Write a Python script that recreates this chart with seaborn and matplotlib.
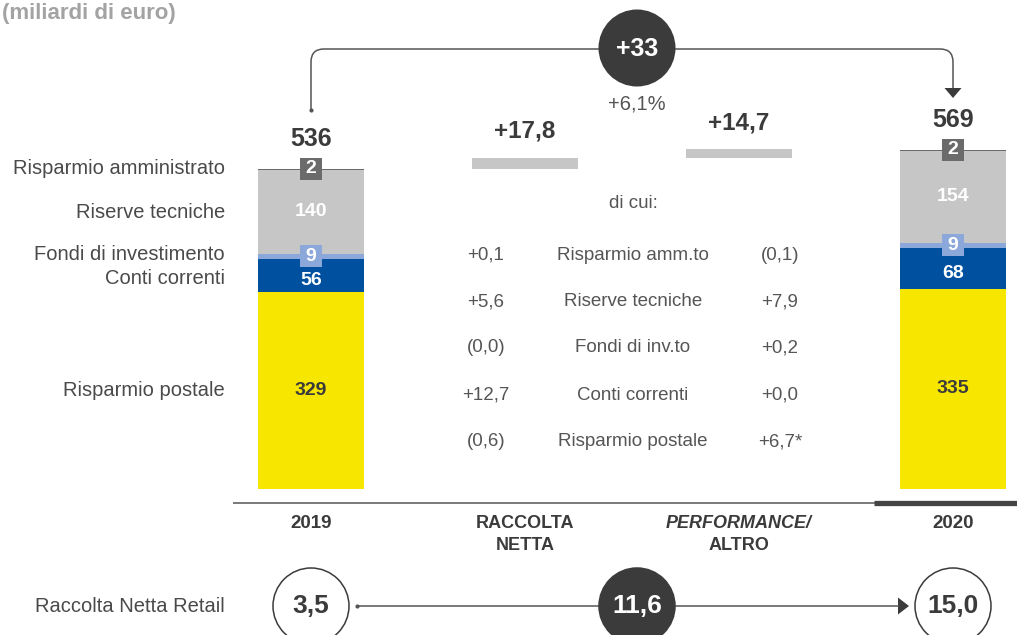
import numpy as np
import pandas as pd
import matplotlib
matplotlib.use("Agg")
import matplotlib.pyplot as plt
from matplotlib.path import Path
from matplotlib.patches import PathPatch, Polygon, Circle
import seaborn as sns

# ---- data (miliardi di euro) ----
columns = ["2019", "RACCOLTA NETTA", "PERFORMANCE/ALTRO", "2020"]
segments = ["Risparmio postale", "Conti correnti", "Fondi di investimento",
            "Riserve tecniche", "Risparmio amministrato"]
stock_2019 = [329, 56, 9, 140, 2]
stock_2020 = [335, 68, 9, 154, 2]
segment_labels_2019 = ["329", "56", "9", "140", "2"]
segment_labels_2020 = ["335", "68", "9", "154", "2"]
total_labels = ["536", "569"]
flow_values = [17.8, 14.7]
flow_labels = ["+17,8", "+14,7"]
delta_total = "+33"
delta_pct = "+6,1%"
detail_items = ["Risparmio amm.to", "Riserve tecniche", "Fondi di inv.to",
                "Conti correnti", "Risparmio postale"]
detail_raccolta = ["+0,1", "+5,6", "(0,0)", "+12,7", "(0,6)"]
detail_performance = ["(0,1)", "+7,9", "+0,2", "+0,0", "+6,7*"]
retail_labels = ["3,5", "11,6", "15,0"]
retail_title = "Raccolta Netta Retail"

# ---- styling ----
sns.set_theme(style="white")
plt.rcParams["font.family"] = ["Liberation Sans", "DejaVu Sans"]

YELLOW = "#f7e700"
BLUE = "#0050a0"
LIGHT_BLUE = "#8ca8da"
GREY = "#c6c6c6"
DARK_GREY = "#6b6b6b"
INK = "#3b3b3b"
TEXT = "#4a4a4a"
seg_colors = [YELLOW, BLUE, LIGHT_BLUE, GREY, DARK_GREY]

W, H = 1017, 635
fig = plt.figure(figsize=(W / 100, H / 100), dpi=100)
fig.patch.set_facecolor("white")

# value axis: category spacing and value scale
X0, DX = 311.0, 214.0          # pixel centre of first column, column spacing
BASE, K = 489.0, 0.5976        # pixel row of zero, pixels per billion
ax = fig.add_axes([0, 0, 1, 1])
ax.set_axis_off()

# stacked stock bars
bottom = np.zeros(len(columns))
for i, color in enumerate(seg_colors):
    heights = np.array([stock_2019[i], 0, 0, stock_2020[i]], dtype=float)
    df = pd.DataFrame({"col": columns, "val": heights})
    sns.barplot(data=df, x="col", y="val", order=columns, color=color,
                saturation=1, width=0.495, errorbar=None, bottom=bottom.copy(),
                linewidth=0, ax=ax)
    bottom += heights

# floating bars of the bridge
tot19 = sum(stock_2019)
flow_bottom = np.array([0, tot19, tot19 + flow_values[0], 0], dtype=float)
flow_heights = np.array([0, flow_values[0], flow_values[1], 0], dtype=float)
sns.barplot(data=pd.DataFrame({"col": columns, "val": flow_heights}), x="col", y="val",
            order=columns, color=GREY, saturation=1, width=0.495, errorbar=None,
            bottom=flow_bottom, linewidth=0, ax=ax)

ax.set_xlim(-X0 / DX, (W - X0) / DX)
ax.set_ylim(-(H - BASE) / K, BASE / K)

# segment labels inside the stock bars
for col, stock, labels in [(0, stock_2019, segment_labels_2019), (3, stock_2020, segment_labels_2020)]:
    cum = np.cumsum([0] + stock)
    # postale
    ax.text(col, (cum[0] + cum[1]) / 2, labels[0], ha="center", va="center",
            fontsize=14, fontweight="bold", color=INK, zorder=5)
    # conti correnti
    ax.annotate(labels[1], (col, (cum[1] + cum[2]) / 2), xytext=(0, -3.5),
                textcoords="offset points", ha="center", va="center",
                fontsize=14, fontweight="bold", color="white", zorder=5)
    # fondi (boxed)
    ymid = (cum[2] + cum[3]) / 2
    ax.scatter([col], [ymid], marker="s", s=235, color=LIGHT_BLUE, linewidths=0, zorder=5)
    ax.text(col, ymid, labels[2], ha="center", va="center",
            fontsize=14, fontweight="bold", color="white", zorder=6)
    # riserve tecniche
    ax.text(col, (cum[3] + cum[4]) / 2, labels[3], ha="center", va="center",
            fontsize=14, fontweight="bold", color="white", zorder=5)
    # amministrato (boxed at the top edge)
    ax.scatter([col], [cum[5]], marker="s", s=235, color=DARK_GREY, linewidths=0, zorder=5)
    ax.text(col, cum[5], labels[4], ha="center", va="center",
            fontsize=14, fontweight="bold", color="white", zorder=6)

# totals above stock bars
for col, tot, lab in [(0, tot19, total_labels[0]), (3, sum(stock_2020), total_labels[1])]:
    ax.annotate(lab, (col, tot), xytext=(0, 16), textcoords="offset points",
                ha="center", va="baseline", fontsize=18, fontweight="bold", color=INK)

# bridge labels
for col, b, h, lab in [(1, flow_bottom[1], flow_heights[1], flow_labels[0]),
                       (2, flow_bottom[2], flow_heights[2], flow_labels[1])]:
    ax.annotate(lab, (col, b + h), xytext=(0, 14.5), textcoords="offset points",
                ha="center", va="baseline", fontsize=17.5, fontweight="bold", color=INK)

# ---- overlay in pixel units for the decoration ----
lay = fig.add_axes([0, 0, 1, 1], zorder=3)
lay.set_xlim(0, W)
lay.set_ylim(H, 0)
lay.set_axis_off()
lay.patch.set_alpha(0)

cx = [X0 + DX * i for i in range(4)]
mid_x = 637

# unit note
lay.text(2, 19, "(miliardi di euro)", ha="left", va="baseline",
         fontsize=16, fontweight="bold", color="#a3a3a3")

# segment names on the left
for name, y in [("Risparmio amministrato", 169), ("Riserve tecniche", 212),
                ("Fondi di investimento", 255), ("Conti correnti", 279),
                ("Risparmio postale", 390)]:
    lay.text(225, y, name, ha="right", va="center", fontsize=14.5, color=TEXT)

# connector from 2019 to 2020 over the top
r = 13
verts = [(cx[0], 110), (cx[0], 49 + r), (cx[0], 49), (cx[0] + r, 49),
         (cx[3] - r, 49), (cx[3], 49), (cx[3], 49 + r), (cx[3], 89)]
codes = [Path.MOVETO, Path.LINETO, Path.CURVE3, Path.CURVE3,
         Path.LINETO, Path.CURVE3, Path.CURVE3, Path.LINETO]
lay.add_patch(PathPatch(Path(verts, codes), fill=False, edgecolor="#555555", lw=1.1))
lay.add_patch(Polygon([(cx[3] - 8.5, 88), (cx[3] + 8.5, 88), (cx[3], 98)],
                      closed=True, color=INK, lw=0))
lay.plot([cx[0]], [110], marker="o", ms=2, color="#555555")
lay.add_patch(Circle((mid_x, 48), 38.5, color=INK, lw=0, zorder=4))
lay.text(mid_x, 49, delta_total, ha="center", va="center", fontsize=18,
         fontweight="bold", color="white", zorder=5)
lay.text(mid_x, 104, delta_pct, ha="center", va="center", fontsize=14.5, color="#555555")

# "di cui" breakdown table
lay.text(633, 204, "di cui:", ha="center", va="center", fontsize=13.5, color="#555555")
for k, y in enumerate([255, 302, 348, 395, 442]):
    lay.text(486, y, detail_raccolta[k], ha="center", va="center", fontsize=13.5, color="#555555")
    lay.text(633, y, detail_items[k], ha="center", va="center", fontsize=13.5, color="#555555")
    lay.text(780, y, detail_performance[k], ha="center", va="center", fontsize=13.5, color="#555555")

# baseline
lay.plot([233, W], [503, 503], color="#555555", lw=1.1, solid_capstyle="butt")
lay.plot([874, W], [503, 503], color="#444444", lw=3.8, solid_capstyle="butt")

# column headings
lay.text(cx[0], 524, "2019", ha="center", va="center", fontsize=13.5, fontweight="bold", color=INK)
lay.text(cx[3], 524, "2020", ha="center", va="center", fontsize=13.5, fontweight="bold", color=INK)
lay.text(cx[1], 523, "RACCOLTA", ha="center", va="center", fontsize=13, fontweight="bold", color=INK)
lay.text(cx[1], 545, "NETTA", ha="center", va="center", fontsize=13, fontweight="bold", color=INK)
lay.text(cx[2], 523, "PERFORMANCE/", ha="center", va="center", fontsize=13, fontweight="bold",
         fontstyle="italic", color=INK)
lay.text(cx[2], 545, "ALTRO", ha="center", va="center", fontsize=13, fontweight="bold", color=INK)

# retail net inflow row
row_y = 606
lay.text(225, row_y, retail_title, ha="right", va="center", fontsize=14.5, color=TEXT)
lay.plot([357, 899], [row_y, row_y], color="#555555", lw=1.1, solid_capstyle="butt")
lay.plot([357], [row_y], marker="o", ms=2, color="#555555")
lay.add_patch(Polygon([(898, row_y - 8.5), (898, row_y + 8.5), (909, row_y)],
                      closed=True, color=INK, lw=0))
for x, lab, filled in [(cx[0], retail_labels[0], False), (mid_x, retail_labels[1], True),
                       (cx[3], retail_labels[2], False)]:
    lay.add_patch(Circle((x, row_y), 38, facecolor=INK if filled else "white",
                         edgecolor=INK, lw=1.1, zorder=4))
    lay.text(x, row_y, lab, ha="center", va="center", fontsize=19, fontweight="bold",
             color="white" if filled else INK, zorder=5)

fig.savefig("out.png", dpi=100, facecolor="white")
